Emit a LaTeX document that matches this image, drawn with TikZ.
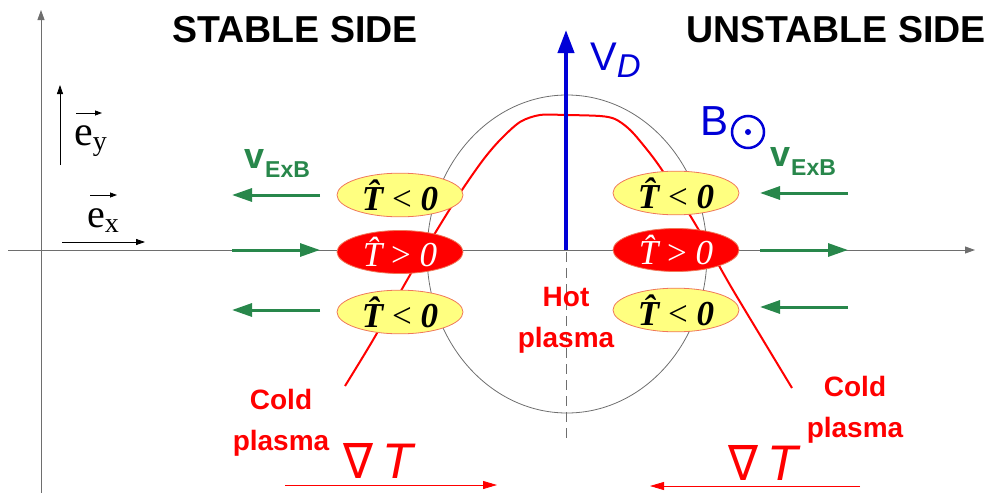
\documentclass[tikz,border=0pt]{standalone}
\usepackage{fontspec}
\setmainfont{Liberation Serif}
\setsansfont{Liberation Sans}
\newfontfamily\dejavu{DejaVu Sans}
\usetikzlibrary{arrows.meta,shapes.geometric}
\definecolor{vdblue}{RGB}{0,0,215}
\definecolor{exbgreen}{RGB}{40,135,75}
\definecolor{plred}{RGB}{255,0,0}
\definecolor{ellyellow}{RGB}{255,255,128}
\definecolor{ellborder}{RGB}{240,120,90}
\definecolor{axisgray}{RGB}{110,110,110}
\begin{document}
\begin{tikzpicture}[x=1pt,y=-1pt,
  title/.style={font=\sffamily\bfseries\fontsize{37.5}{40}\selectfont, inner sep=0, anchor=base},
  redlbl/.style={font=\sffamily\bfseries\fontsize{28}{41}\selectfont, text=plred, align=center, inner sep=0},
  yell/.style={ellipse, draw=ellborder, line width=0.8pt, fill=ellyellow, minimum width=126pt, minimum height=43pt, inner sep=0, font=\fontsize{35}{36}\selectfont},
  redell/.style={ellipse, draw=ellborder, line width=0.8pt, fill=plred, text=white, minimum width=126pt, minimum height=43pt, inner sep=0, font=\fontsize{35}{36}\selectfont},
  exb/.style={line width=3pt, draw=exbgreen, -{Triangle[length=20pt,width=13pt]}},
  axis/.style={draw=axisgray, line width=0.9pt, -{Triangle[length=10pt,width=7pt]}},
  unitvec/.style={draw=black, line width=0.8pt, -{Triangle[length=9pt,width=6pt]}},
  gradarrow/.style={draw=plred, line width=0.8pt, -{Triangle[length=14pt,width=8pt]}},
  exblbl/.style={inner sep=0, anchor=base west, text=exbgreen, font=\sffamily\bfseries},
  nablalbl/.style={inner sep=0, anchor=base west, text=plred}
]
\useasboundingbox (0,0) rectangle (989,493);

% axes
\draw[axis] (41,493) -- (41,10);
\draw[axis] (8,250) -- (975,250);

% unit vectors
\draw[unitvec] (60,165) -- (60,85);
\draw[unitvec] (62,242) -- (145,242);
\node[inner sep=0, anchor=base west, font=\fontsize{42}{44}\selectfont] (ey) at (74,145) {e\raisebox{-5pt}{\fontsize{28}{30}\selectfont y}};
\node[inner sep=0, anchor=base west, font=\fontsize{40}{44}\selectfont] (ex) at (87,227) {e\raisebox{-5pt}{\fontsize{28}{30}\selectfont x}};
\draw[unitvec, -{Triangle[length=7pt,width=5pt]}] (76,113) -- (102,113);
\draw[unitvec, -{Triangle[length=7pt,width=5pt]}] (90,195) -- (117,195);

% titles
\node[title] (stable) at (295,42) {STABLE SIDE};
\node[title] (unstable) at (836,42) {UNSTABLE SIDE};

% gray circle and dashed line
\draw[axisgray, line width=0.8pt] (567,254) ellipse [x radius=140, y radius=159];
\draw[axisgray, line width=1pt, dash pattern=on 10pt off 6pt] (566,252) -- (566,440);

% red temperature profile
\draw[plred, line width=2pt, line join=round] plot[smooth, tension=0.5] coordinates {
 (345,386) (373,340) (410,275) (440,225) (462,190) (483,160) (500,140) (520,122) (540,115) (566,115)
 (600,116) (615,119) (628,128) (640,141) (662,170) (700,232) (730,285) (763,340) (792,388)};

% V_D arrow
\draw[vdblue, line width=4pt, -{Triangle[length=23pt,width=16pt]}] (566,250) -- (566,30);
\node[inner sep=0, anchor=base west, text=vdblue, font=\sffamily\fontsize{40}{44}\selectfont] (vd) at (590,70) {V\raisebox{-7pt}{\fontsize{33}{36}\selectfont\itshape D}};

% B field
\node[inner sep=0, anchor=base west, text=vdblue, font=\sffamily\fontsize{42}{44}\selectfont] (bfield) at (700,135) {B};
\draw[vdblue, line width=2.5pt] (748,132) circle [radius=16];
\fill[vdblue] (748,132) circle [radius=3];

% ellipses
\node[yell] (ul) at (400,195) {{\bfseries\itshape \^{T}} < {\bfseries\itshape 0}};
\node[redell] (ml) at (400,252) {{\itshape \^{T}} > {\itshape 0}};
\node[yell] (ll) at (400,312) {{\bfseries\itshape \^{T}} < {\bfseries\itshape 0}};
\node[yell] (ur) at (676,193) {{\bfseries\itshape \^{T}} < {\bfseries\itshape 0}};
\node[redell] (mr) at (676,250) {{\itshape \^{T}} > {\itshape 0}};
\node[yell] (lr) at (676,310) {{\bfseries\itshape \^{T}} < {\bfseries\itshape 0}};

% ExB labels and arrows
\node[exblbl] (exbl) at (244,168) {{\fontsize{36}{40}\selectfont v}\hspace{1pt}\raisebox{-9pt}{\fontsize{23}{26}\selectfont ExB}};
\node[exblbl] (exbr) at (770,166) {{\fontsize{36}{40}\selectfont v}\hspace{1pt}\raisebox{-9pt}{\fontsize{23}{26}\selectfont ExB}};
\draw[exb] (320,195) -- (232,195);
\draw[exb] (232,250) -- (320,250);
\draw[exb] (320,310) -- (232,310);
\draw[exb] (848,193) -- (760,193);
\draw[exb] (760,250) -- (848,250);
\draw[exb] (848,307) -- (760,307);

% plasma labels
\node[redlbl] (hot) at (566,320) {Hot\\plasma};
\node[redlbl] (coldl) at (281,423) {Cold\\plasma};
\node[redlbl] (coldr) at (855,410) {Cold\\plasma};

% grad T
\node[nablalbl] (gradl) at (343,478) {\resizebox{30pt}{35pt}{\dejavu ∇}\hspace{9pt}{\sffamily\itshape\fontsize{50}{56}\selectfont T}};
\node[nablalbl] (gradr) at (728,480) {\resizebox{30pt}{35pt}{\dejavu ∇}\hspace{9pt}{\sffamily\itshape\fontsize{50}{56}\selectfont T}};
\draw[gradarrow] (285,485) -- (497,485);
\draw[gradarrow] (860,486) -- (650,486);
\end{tikzpicture}
\end{document}
